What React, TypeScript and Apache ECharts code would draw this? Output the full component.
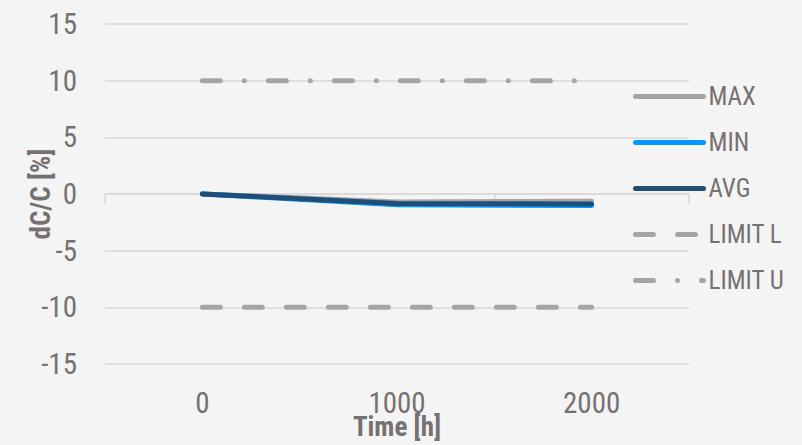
import React, { useEffect, useRef } from "react";
import * as echarts from "echarts";

const categories = ["0", "1000", "2000"];
const maxValues = [0, -0.7, -0.65];
const minValues = [0, -0.95, -1.02];
const avgValues = [0, -0.83, -0.88];
const limitLower = [-10, -10, -10];
const limitUpper = [10, 10, 10];
const yTicks = { min: -15, max: 15, interval: 5 };

const FONT = "'Roboto Condensed', 'Liberation Sans', sans-serif";
const TEXT = "#767171";
const GRID = "#d9d9d9";
const GRAY = "#a5a5a5";
const BRIGHT = "#0099ff";
const DARK = "#1f4e79";

export default function App() {
  const ref = useRef<HTMLDivElement>(null);
  useEffect(() => {
    if (!ref.current) return;
    const chart = echarts.init(ref.current, null, { renderer: "svg" });
    const line = (name: string, data: number[], color: string, type: any) => ({
      name,
      type: "line",
      data,
      xAxisIndex: 0,
      symbol: "none",
      lineStyle: { color, width: 5, type, cap: "round", join: "round" },
      itemStyle: { color },
      z: 3,
    });
    chart.setOption({
      animation: false,
      backgroundColor: "#f4f4f4",
      textStyle: { fontFamily: FONT },
      grid: { left: 105, width: 584, top: 24, height: 345 },
      legend: {
        orient: "vertical",
        left: 628,
        top: 79,
        itemWidth: 68,
        itemHeight: 14,
        itemGap: 21,
        textStyle: { fontFamily: FONT, fontSize: 25, color: TEXT },
        lineStyle: { width: 5 },
        itemStyle: { opacity: 0 },
        data: ["MAX", "MIN", "AVG", "LIMIT L", "LIMIT U"],
      },
      xAxis: [
        {
          type: "category",
          data: categories,
          boundaryGap: true,
          position: "bottom",
          axisLine: { show: false, onZero: false },
          axisTick: { show: false },
          splitLine: { show: false },
          axisLabel: { color: TEXT, fontSize: 29, fontFamily: FONT, margin: 24 },
          name: "Time [h]",
          nameLocation: "middle",
          nameGap: 49,
          nameMoveOverlap: false,
          nameTextStyle: { color: TEXT, fontSize: 27, fontWeight: "bold", fontFamily: FONT },
        },
        {
          type: "category",
          data: categories,
          boundaryGap: true,
          position: "bottom",
          axisLine: { show: true, onZero: true, lineStyle: { color: GRID, width: 1.5 } },
          axisTick: { show: true, length: 10, lineStyle: { color: GRID, width: 1.5 } },
          axisLabel: { show: false },
          splitLine: { show: false },
        },
      ],
      yAxis: {
        type: "value",
        min: yTicks.min,
        max: yTicks.max,
        interval: yTicks.interval,
        axisLine: { show: false },
        axisTick: { show: false },
        splitLine: { lineStyle: { color: GRID, width: 1.5 } },
        axisLabel: { color: TEXT, fontSize: 29, fontFamily: FONT, margin: 28 },
        name: "dC/C [%]",
        nameLocation: "middle",
        nameGap: 51,
        nameMoveOverlap: false,
        nameTextStyle: { color: TEXT, fontSize: 27, fontWeight: "bold", fontFamily: FONT },
      },
      series: [
        line("MAX", maxValues, GRAY, "solid"),
        line("MIN", minValues, BRIGHT, "solid"),
        line("AVG", avgValues, DARK, "solid"),
        line("LIMIT L", limitLower, GRAY, [18, 24]),
        line("LIMIT U", limitUpper, GRAY, [18, 24, 0, 24]),
      ],
    });
    return () => chart.dispose();
  }, []);
  return (
    <div
      ref={ref}
      style={{ position: "absolute", left: 0, top: 0, width: 802, height: 445 }}
    />
  );
}
